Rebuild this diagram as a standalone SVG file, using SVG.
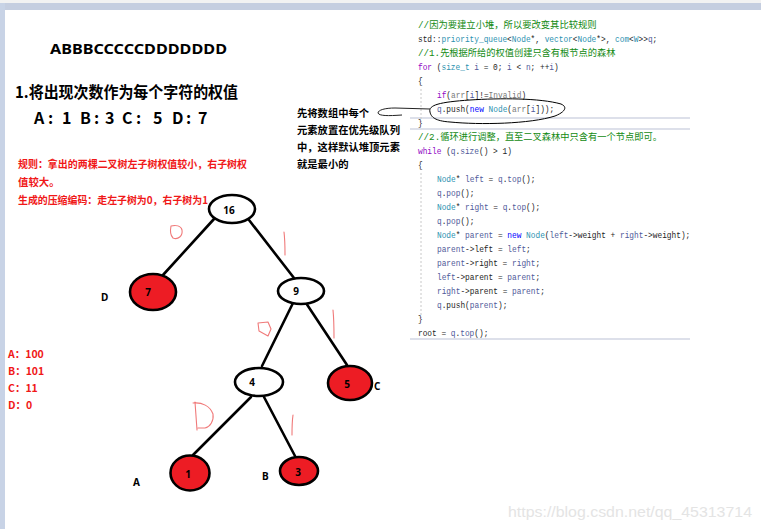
<svg xmlns="http://www.w3.org/2000/svg" width="761" height="529" viewBox="0 0 761 529">
<style>
.t{font-family:'Noto Sans','Noto Sans CJK SC',sans-serif;font-weight:bold;}
.cjk{font-family:'Noto Sans CJK SC','Noto Sans',sans-serif;font-weight:bold;}
.red{fill:#f01818;}
.code{font-family:'Liberation Mono','Noto Sans CJK SC',monospace;font-size:9.5px;fill:#1e1e1e;}
.cm{fill:#128a12;}
.kw{fill:#8f08c4;}
.bl{fill:#0000ff;}
.ty{fill:#2b91af;}
.vr{fill:#4f5a9a;}
.gr{fill:#7a7a7a;}
.edge{stroke:#000;stroke-width:2.6;fill:none;stroke-linecap:round;}
.nw{fill:#fff;stroke:#000;stroke-width:2.6;}
.nr{fill:#ed1c24;stroke:#000;stroke-width:2.6;}
.lbl{font-family:'Noto Sans',sans-serif;font-weight:bold;font-size:10px;fill:#000;}
.hand{fill:none;stroke:#f07a7a;stroke-width:1.1;stroke-linecap:round;stroke-linejoin:round;}
.sep{stroke:#dde0ea;stroke-width:2;}
</style>
<rect x="0" y="0" width="761" height="529" fill="#fff"/>
<rect x="0" y="0" width="761" height="3" fill="#f2f2f2"/>
<rect x="0" y="3" width="761" height="7" fill="#c5cee0"/>
<rect x="0" y="3" width="5" height="526" fill="#c8d3e6"/>

<!-- left texts -->
<text class="t" x="50" y="54" font-size="15" textLength="177" lengthAdjust="spacingAndGlyphs">ABBBCCCCCDDDDDDD</text>
<text class="cjk" x="15" y="98" font-size="16" textLength="223" lengthAdjust="spacingAndGlyphs">1.将出现次数作为每个字符的权值</text>
<g class="cjk" font-size="16">
<text x="34" y="124">A</text><text x="48" y="124">:</text><text x="62" y="124">1</text>
<text x="80" y="124">B</text><text x="94" y="124">:</text><text x="105" y="124">3</text>
<text x="122" y="124">C</text><text x="136" y="124">:</text><text x="153" y="124">5</text>
<text x="172" y="124">D</text><text x="186" y="124">:</text><text x="198" y="124">7</text>
</g>
<g class="cjk red" font-size="10.4">
<text x="18" y="168" textLength="229" lengthAdjust="spacingAndGlyphs">规则：拿出的两棵二叉树左子树权值较小，右子树权</text>
<text x="18" y="186">值较大。</text>
<text x="18" y="204" textLength="190" lengthAdjust="spacingAndGlyphs">生成的压缩编码：走左子树为0，右子树为1</text>
</g>
<g class="cjk red" font-size="10.5">
<text x="8" y="358">A：100</text>
<text x="8" y="375">B：101</text>
<text x="8" y="392">C：11</text>
<text x="8" y="409">D：0</text>
</g>
<g class="cjk" font-size="10.3">
<text x="297" y="117">先将数组中每个</text>
<text x="297" y="134">元素放置在优先级队列</text>
<text x="297" y="151">中，这样默认堆顶元素</text>
<text x="297" y="168">就是最小的</text>
</g>

<!-- code -->
<g id="code">
<line class="sep" x1="410" y1="118" x2="690" y2="118"/>
<line class="sep" x1="410" y1="129" x2="690" y2="129"/>
<line class="sep" x1="410" y1="339" x2="690" y2="339"/>
<line x1="421" y1="89" x2="421" y2="122" stroke="#c8c8c8" stroke-width="1" stroke-dasharray="2,2"/>
<line x1="421" y1="173" x2="421" y2="318" stroke="#c8c8c8" stroke-width="1" stroke-dasharray="2,2"/>
<text class="code cm" x="418" y="28" textLength="178.6" lengthAdjust="spacingAndGlyphs">//因为要建立小堆，所以要改变其比较规则</text>
<text class="code cm" x="418" y="56" textLength="197.4" lengthAdjust="spacingAndGlyphs">//1.先根据所给的权值创建只含有根节点的森林</text>
<text class="code cm" x="418" y="140" textLength="244" lengthAdjust="spacingAndGlyphs">//2.循环进行调整，直至二叉森林中只含有一个节点即可。</text>
<g transform="scale(0.8246 1)">
<text class="code" x="506.9" y="42">std::<tspan class="ty">priority_queue</tspan>&lt;<tspan class="ty">Node</tspan>*, <tspan class="ty">vector</tspan>&lt;<tspan class="ty">Node</tspan>*&gt;, <tspan class="ty">com</tspan>&lt;<tspan class="ty">W</tspan>&gt;&gt;<tspan class="vr">q</tspan>;</text>
<text class="code" x="506.9" y="70"><tspan class="kw">for</tspan> (<tspan class="ty">size_t</tspan> <tspan class="vr">i</tspan> = 0; <tspan class="vr">i</tspan> &lt; <tspan class="vr">n</tspan>; ++<tspan class="vr">i</tspan>)</text>
<text class="code" x="506.9" y="84">{</text>
<text class="code" x="529.9" y="98"><tspan class="kw">if</tspan>(<tspan class="gr">arr</tspan>[<tspan class="vr">i</tspan>]!=<tspan class="gr">Invalid</tspan>)</text>
<text class="code" x="529.9" y="112"><tspan class="vr">q</tspan>.push(<tspan class="bl">new</tspan> <tspan class="ty">Node</tspan>(<tspan class="gr">arr</tspan>[<tspan class="vr">i</tspan>]));</text>
<text class="code" x="506.9" y="126">}</text>
<text class="code" x="506.9" y="154"><tspan class="kw">while</tspan> (<tspan class="vr">q</tspan>.<tspan class="vr">size</tspan>() &gt; 1)</text>
<text class="code" x="506.9" y="168">{</text>
<text class="code" x="529.9" y="182"><tspan class="ty">Node</tspan>* <tspan class="vr">left</tspan> = <tspan class="vr">q</tspan>.<tspan class="vr">top</tspan>();</text>
<text class="code" x="529.9" y="196"><tspan class="vr">q</tspan>.<tspan class="vr">pop</tspan>();</text>
<text class="code" x="529.9" y="210"><tspan class="ty">Node</tspan>* <tspan class="vr">right</tspan> = <tspan class="vr">q</tspan>.<tspan class="vr">top</tspan>();</text>
<text class="code" x="529.9" y="224"><tspan class="vr">q</tspan>.<tspan class="vr">pop</tspan>();</text>
<text class="code" x="529.9" y="238"><tspan class="ty">Node</tspan>* <tspan class="vr">parent</tspan> = <tspan class="bl">new</tspan> <tspan class="ty">Node</tspan>(<tspan class="vr">left</tspan>-&gt;weight + <tspan class="vr">right</tspan>-&gt;weight);</text>
<text class="code" x="529.9" y="252"><tspan class="vr">parent</tspan>-&gt;left = <tspan class="vr">left</tspan>;</text>
<text class="code" x="529.9" y="266"><tspan class="vr">parent</tspan>-&gt;right = <tspan class="vr">right</tspan>;</text>
<text class="code" x="529.9" y="280"><tspan class="vr">left</tspan>-&gt;parent = <tspan class="vr">parent</tspan>;</text>
<text class="code" x="529.9" y="294"><tspan class="vr">right</tspan>-&gt;parent = <tspan class="vr">parent</tspan>;</text>
<text class="code" x="529.9" y="308"><tspan class="vr">q</tspan>.push(<tspan class="vr">parent</tspan>);</text>
<text class="code" x="506.9" y="322">}</text>
<text class="code" x="506.9" y="336">root = <tspan class="vr">q</tspan>.<tspan class="vr">top</tspan>();</text>
</g>
<path d="M430 112 C428 105 440 102 470 100 C500 98 540 98 561 104 C568 107 565 112 555 116 C530 124 480 125 450 122 C435 121 431 117 430 112 Z" fill="none" stroke="#000" stroke-width="1"/>
</g>

<!-- connectors -->
<g id="connectors">
<path d="M430 109 L395 108 C385 108 378 110 378 113 C379 116 388 116 402 115" fill="none" stroke="#222" stroke-width="1"/>
<line class="edge" x1="214" y1="219" x2="163" y2="275"/>
<line class="edge" x1="249" y1="220" x2="294" y2="278"/>
<line class="edge" x1="293" y1="303" x2="262" y2="366"/>
<line class="edge" x1="306" y1="303" x2="347" y2="365"/>
<line class="edge" x1="251" y1="397" x2="193" y2="455"/>
<line class="edge" x1="264" y1="397" x2="295" y2="456"/>
</g>

<!-- handwritten codes -->
<g id="marks">
<path class="hand" d="M171 226 C170 231 171 236 173 238 C178 240 183 236 182 230 C181 226 176 225 171 226"/>
<path class="hand" d="M284 232 C285 240 285 248 285 255"/>
<path class="hand" d="M258 323 L268 322 L271 329 L268 336 L259 331 Z"/>
<path class="hand" d="M333 310 C334 320 334 330 334 338"/>
<path class="hand" d="M195 402 L197 430 M193 403 C202 402 210 406 213 414 C214 421 210 427 205 428 L198 428"/>
<path class="hand" d="M293 415 C292 422 292 428 292 435"/>
</g>

<!-- nodes -->
<g id="n16"><ellipse class="nw" cx="232" cy="209" rx="23" ry="14"/><text class="lbl" x="229" y="214" text-anchor="middle">16</text></g>
<g id="n7"><ellipse class="nr" cx="153" cy="292" rx="23" ry="18"/><text class="lbl" x="148" y="296" text-anchor="middle">7</text></g>
<g id="n9"><ellipse class="nw" cx="301" cy="291" rx="23" ry="13"/><text class="lbl" x="296" y="295" text-anchor="middle">9</text></g>
<g id="n4"><ellipse class="nw" cx="259" cy="382" rx="24" ry="14"/><text class="lbl" x="252" y="386" text-anchor="middle">4</text></g>
<g id="n5"><ellipse class="nr" cx="350" cy="383" rx="22" ry="17"/><text class="lbl" x="347" y="388" text-anchor="middle">5</text></g>
<g id="n1"><ellipse class="nr" cx="190" cy="473" rx="19.5" ry="17.5"/><text class="lbl" x="188" y="478" text-anchor="middle">1</text></g>
<g id="n3"><ellipse class="nr" cx="299" cy="471" rx="19" ry="14"/><text class="lbl" x="298" y="476" text-anchor="middle">3</text></g>

<g id="letters">
<text class="lbl" x="101" y="301">D</text>
<text class="lbl" x="374" y="390">C</text>
<text class="lbl" x="133" y="486">A</text>
<text class="lbl" x="262" y="480">B</text>
</g>

<text x="508" y="517" font-family="'Liberation Sans',Arial,sans-serif" font-size="14" fill="#e4e4e4" textLength="244" lengthAdjust="spacingAndGlyphs">https://blog.csdn.net/qq_45313714</text>
</svg>
